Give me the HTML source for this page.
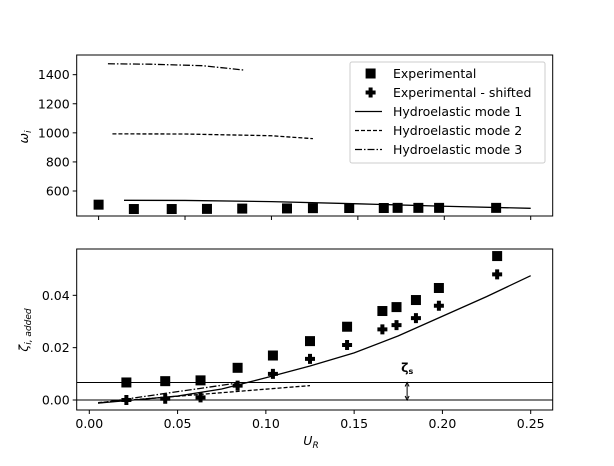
<!DOCTYPE html>
<html><head><meta charset="utf-8"><style>
body{margin:0;background:#fff;}
svg text{font-family:"DejaVu Sans","Liberation Sans",sans-serif;font-size:12.5px;fill:#000;}
</style></head><body>
<svg id="c" width="614" height="461" xmlns="http://www.w3.org/2000/svg"></svg>
<script>
const topX=[0.0,0.0204,0.0423,0.0627,0.0831,0.109,0.124,0.145,0.165,0.173,0.185,0.197,0.23];
const topY=[506,476,476,477,479,480,482,483,483,484,484,484,484];
const mode1TopX=[0.0147,0.05,0.1,0.15,0.2,0.25];
const mode1TopY=[536,535,527,512,495,481];
const mode2TopX=[0.008,0.05,0.1,0.124];
const mode2TopY=[993,992,980,960];
const mode3TopX=[0.0054,0.03,0.06,0.084];
const mode3TopY=[1475,1472,1462,1432];
const topTicks=[600,800,1000,1200,1400];
const botX=[0.021,0.043,0.063,0.084,0.104,0.125,0.146,0.166,0.174,0.185,0.198,0.231];
const botSq=[0.0067,0.0072,0.0075,0.0123,0.017,0.0225,0.028,0.034,0.0355,0.0382,0.0428,0.055];
const botCr=[0.0,0.0005,0.001,0.0055,0.010,0.0157,0.021,0.027,0.0286,0.0313,0.036,0.048];
const m1X=[0.005,0.025,0.05,0.075,0.1,0.125,0.15,0.175,0.2,0.225,0.25];
const m1Y=[-0.0012,0,0.0015,0.0042,0.0085,0.013,0.018,0.0245,0.032,0.0395,0.0475];
const m2X=[0.005,0.125];
const m2Y=[-0.001,0.0055];
const m3X=[0.005,0.084];
const m3Y=[-0.0012,0.0065];
const zetaS=0.0067;
const botYTicks=[0.00,0.02,0.04];
const botXTicks=[0,0.05,0.1,0.15,0.2,0.25];

const svg=document.getElementById('c');
const NS='http://www.w3.org/2000/svg';
function mk(t,a,p){const e=document.createElementNS(NS,t);for(const k in a)e.setAttribute(k,a[k]);(p||svg).appendChild(e);return e;}
const txT=v=>98.6+v*1728.4, tyT=v=>191-(v-600)*0.1454;
const txB=v=>89.3+v*1765.6, tyB=v=>400-v*2617;
const L=76.7,R=552.7;
// top axes
let g=mk('g',{});
for(const t of topTicks){const y=tyT(t);mk('line',{x1:L-4,x2:L,y1:y,y2:y,stroke:'#000'},g);
 const tx=mk('text',{x:L-7,y:y+4.5,'text-anchor':'end'},g);tx.textContent=t;}
for(let i=0;i<6;i++){const x=txT(i*0.05);mk('line',{x1:x,x2:x,y1:216,y2:220,stroke:'#000'},g);}
let yt=mk('text',{x:0,y:0,transform:'translate(28,137) rotate(-90)','text-anchor':'middle','font-style':'italic'},g);yt.innerHTML='ω<tspan font-size="9" dy="3">i</tspan>';
function poly(xs,ys,fx,fy,dash,name,p){const pts=xs.map((x,i)=>fx(x)+','+fy(ys[i])).join(' ');const e=mk('polyline',{points:pts,fill:'none',stroke:'#000','stroke-width':1.3,'stroke-dasharray':dash||'none'},p);}
function sq(x,y,p){const e=mk('rect',{x:x-5,y:y-5,width:10,height:10,fill:'#000'},p);}
function cr(x,y,p){const e=mk('path',{d:`M${x-2},${y-5}h4v3h3v4h-3v3h-4v-3h-3v-4h3z`,fill:'#000'},p);}
poly(mode1TopX,mode1TopY,txT,tyT,'','mode1-top',g);
poly(mode2TopX,mode2TopY,txT,tyT,'4,2','mode2-top',g);
poly(mode3TopX,mode3TopY,txT,tyT,'7,2,1.5,2','mode3-top',g);
topX.forEach((x,i)=>sq(txT(x),tyT(topY[i]),g));
mk('rect',{x:L,y:55,width:R-L,height:161,fill:'none',stroke:'#000'},g);
// legend
let lg=mk('g',{});
mk('rect',{x:350,y:62,width:195,height:101,rx:2,fill:'#fff',stroke:'#ccc'},lg);
const names=['Experimental','Experimental - shifted','Hydroelastic mode 1','Hydroelastic mode 2','Hydroelastic mode 3'];
names.forEach((n,i)=>{const y=73.5+i*19;
 if(i==0)sq(370.6,y,lg);else if(i==1)cr(370.6,y,lg);else mk('line',{x1:355,x2:382,y1:y,y2:y,stroke:'#000','stroke-width':1.3,'stroke-dasharray':i==2?'none':i==3?'4,2':'7,2,1.5,2'},lg);
 const t=mk('text',{x:393,y:y+4.5},lg);t.textContent=n;});
// bottom axes
let b=mk('g',{});
for(const t of botYTicks){const y=tyB(t);mk('line',{x1:L-4,x2:L,y1:y,y2:y,stroke:'#000'},b);
 const tx=mk('text',{x:L-7,y:y+4.5,'text-anchor':'end'},b);tx.textContent=t.toFixed(2);}
for(const t of botXTicks){const x=txB(t);mk('line',{x1:x,x2:x,y1:410,y2:414,stroke:'#000'},b);
 const tx=mk('text',{x:x,y:428,'text-anchor':'middle'},b);tx.textContent=t.toFixed(2);}
let xt=mk('text',{x:311,y:445,'text-anchor':'middle','font-style':'italic'},b);xt.innerHTML='U<tspan font-size="9" dy="3">R</tspan>';
let yt2=mk('text',{x:0,y:0,transform:'translate(28,330) rotate(-90)','text-anchor':'middle','font-style':'italic'},b);yt2.innerHTML='ζ<tspan font-size="9" dy="3">i, added</tspan>';
mk('line',{x1:L,x2:R,y1:tyB(0),y2:tyB(0),stroke:'#000'},b);
mk('line',{x1:L,x2:R,y1:tyB(zetaS),y2:tyB(zetaS),stroke:'#000'},b);
poly(m1X,m1Y,txB,tyB,'','mode1-bottom',b);
poly(m2X,m2Y,txB,tyB,'4,2','mode2-bottom',b);
poly(m3X,m3Y,txB,tyB,'7,2,1.5,2','mode3-bottom',b);
botX.forEach((x,i)=>{sq(txB(x),tyB(botSq[i]),b);cr(txB(x),tyB(botCr[i]),b);});
const ax=txB(0.18);
mk('line',{x1:ax,x2:ax,y1:tyB(zetaS)+2,y2:tyB(0)-2,stroke:'#000'},b);
mk('path',{d:`M${ax-2},${tyB(zetaS)+4}L${ax},${tyB(zetaS)}L${ax+2},${tyB(zetaS)+4}M${ax-2},${tyB(0)-4}L${ax},${tyB(0)}L${ax+2},${tyB(0)-4}`,fill:'none',stroke:'#000'},b);
let zl=mk('text',{x:ax-6,y:372,'font-weight':'bold'},b);zl.innerHTML='ζ<tspan font-size="8" dy="2">s</tspan>';
mk('rect',{x:L,y:249,width:R-L,height:161,fill:'none',stroke:'#000'},b);
</script>
</body></html>
